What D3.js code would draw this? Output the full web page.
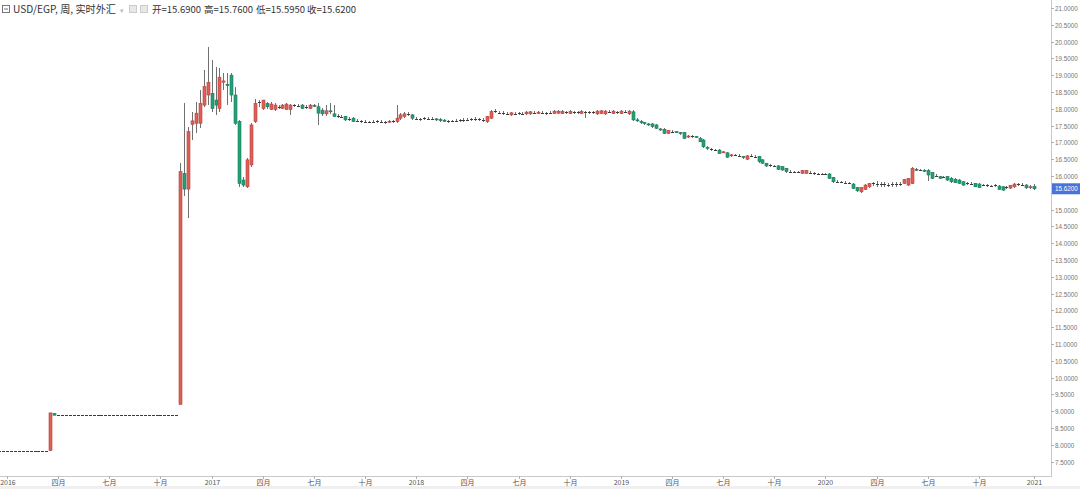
<!DOCTYPE html>
<html><head><meta charset="utf-8">
<script src="https://cdn.jsdelivr.net/npm/d3@7"></script>
<style>
html,body{margin:0;padding:0;background:#fff;overflow:hidden}
svg{display:block}
</style></head>
<body>
<script>
// ---- DATA (weekly bars, k = -2 .. 261, first bar week of 2015-12-21) ----
const firstBar = new Date(2015, 11, 21);
const lastBar = new Date(2021, 0, 4);

const open = [
7.83,7.83,7.83,7.83,7.83,7.83,7.83,7.83,7.83,7.83,
7.83,7.83,7.83,7.83,8.93,8.88,8.88,8.88,8.88,8.88,
8.88,8.88,8.88,8.88,8.88,8.88,8.88,8.88,8.88,8.88,
8.88,8.88,8.88,8.88,8.88,8.88,8.88,8.88,8.88,8.88,
8.88,8.88,8.88,8.88,8.88,8.88,9.2,16.08,15.61,17.54,
17.57,17.57,18.11,18.41,18.46,18.26,18.01,18.79,18.73,19.0,
18.41,17.62,15.88,15.68,16.33,17.62,18.2,18.01,18.16,17.98,
17.98,18.07,18.01,17.98,17.98,18.11,18.1,18.11,18.04,18.01,
18.1,18.06,17.96,17.85,17.94,17.85,17.79,17.77,17.77,17.7,
17.72,17.64,17.63,17.62,17.62,17.61,17.62,17.63,17.62,17.61,
17.63,17.62,17.72,17.77,17.85,17.82,17.72,17.7,17.72,17.72,
17.71,17.7,17.68,17.66,17.64,17.63,17.64,17.65,17.66,17.67,
17.68,17.69,17.7,17.69,17.62,17.72,17.93,17.89,17.88,17.87,
17.82,17.87,17.86,17.87,17.85,17.85,17.89,17.86,17.89,17.88,
17.87,17.86,17.87,17.86,17.91,17.86,17.91,17.9,17.86,17.91,
17.9,17.89,17.85,17.86,17.85,17.92,17.86,17.91,17.86,17.92,
17.85,17.91,17.67,17.62,17.59,17.55,17.55,17.52,17.4,17.39,
17.27,17.33,17.32,17.29,17.29,17.17,17.19,17.17,17.12,17.07,
16.85,16.8,16.78,16.77,16.7,16.69,16.61,16.63,16.61,16.58,
16.5,16.6,16.59,16.58,16.48,16.38,16.32,16.31,16.3,16.28,
16.23,16.14,16.13,16.12,16.08,16.08,16.11,16.09,16.07,16.06,
16.06,16.06,15.96,15.84,15.83,15.81,15.79,15.76,15.66,15.53,
15.6,15.68,15.77,15.77,15.76,15.75,15.75,15.74,15.75,15.76,
15.78,15.73,15.78,16.2,16.19,16.17,16.16,16.1,16.01,15.98,
15.97,15.98,15.93,15.9,15.88,15.83,15.78,15.78,15.78,15.76,
15.73,15.72,15.71,15.71,15.7,15.68,15.65,15.64,15.68,15.75,
15.74,15.73,15.66,15.69];

const high = [
7.83,7.83,7.83,7.83,7.83,7.83,7.83,7.83,7.83,7.83,
7.83,7.83,7.83,8.95,8.95,8.88,8.88,8.88,8.88,8.88,
8.88,8.88,8.88,8.88,8.88,8.88,8.88,8.88,8.88,8.88,
8.88,8.88,8.88,8.88,8.88,8.88,8.88,8.88,8.88,8.88,
8.88,8.88,8.88,8.88,8.88,8.88,16.4,18.16,17.45,17.91,
18.21,18.56,19.16,19.85,19.45,19.25,19.2,19.06,19.06,19.06,
18.66,17.67,15.98,16.53,17.57,18.3,18.26,18.26,18.21,18.2,
18.16,18.12,18.14,18.16,18.14,18.14,18.13,18.14,18.1,18.14,
18.14,18.16,18.02,18.1,18.16,18.1,17.85,17.82,17.8,17.76,
17.75,17.7,17.67,17.66,17.65,17.66,17.67,17.66,17.65,17.67,
17.68,18.11,17.88,17.9,17.9,17.86,17.76,17.74,17.77,17.76,
17.75,17.73,17.72,17.7,17.68,17.68,17.7,17.7,17.72,17.72,
17.74,17.75,17.74,17.72,17.8,17.97,18.0,17.93,17.92,17.91,
17.91,17.9,17.91,17.9,17.93,17.94,17.92,17.93,17.92,17.91,
17.92,17.96,17.96,17.95,17.94,17.95,17.94,17.93,17.95,17.94,
17.93,17.93,17.96,17.97,17.96,17.95,17.96,17.94,17.96,17.95,
17.96,17.95,17.72,17.66,17.62,17.58,17.58,17.55,17.43,17.42,
17.38,17.36,17.35,17.32,17.31,17.23,17.22,17.2,17.15,17.1,
16.88,16.83,16.81,16.8,16.75,16.72,16.66,16.66,16.64,16.61,
16.63,16.64,16.62,16.61,16.5,16.4,16.36,16.34,16.33,16.3,
16.25,16.17,16.16,16.16,16.19,16.19,16.14,16.12,16.1,16.1,
16.09,16.08,15.98,15.87,15.86,15.84,15.82,15.78,15.68,15.68,
15.75,15.8,15.82,15.84,15.82,15.83,15.8,15.82,15.83,15.82,
15.92,15.95,16.26,16.24,16.22,16.2,16.2,16.13,16.05,16.01,
16.01,16.01,15.96,15.93,15.91,15.86,15.82,15.81,15.8,15.78,
15.77,15.76,15.74,15.75,15.73,15.7,15.69,15.74,15.78,15.79,
15.78,15.76,15.72,15.76];

const low = [
7.83,7.83,7.83,7.83,7.83,7.83,7.83,7.83,7.83,7.83,
7.83,7.83,7.83,7.83,8.88,8.88,8.88,8.88,8.88,8.88,
8.88,8.88,8.88,8.88,8.88,8.88,8.88,8.88,8.88,8.88,
8.88,8.88,8.88,8.88,8.88,8.88,8.88,8.88,8.88,8.88,
8.88,8.88,8.88,8.88,8.88,8.88,9.2,15.39,14.74,17.07,
17.27,17.42,18.06,18.11,17.91,17.82,17.91,18.56,18.11,18.21,
17.52,15.68,15.68,15.63,16.28,17.57,18.06,17.96,18.0,17.95,
17.93,18.0,17.98,17.95,17.82,18.06,18.05,17.98,18.0,17.98,
18.04,17.52,17.8,17.8,17.85,17.75,17.74,17.72,17.64,17.65,
17.6,17.6,17.58,17.57,17.57,17.58,17.58,17.57,17.56,17.58,
17.59,17.58,17.68,17.74,17.8,17.68,17.68,17.65,17.68,17.67,
17.66,17.64,17.62,17.6,17.59,17.6,17.6,17.61,17.62,17.63,
17.64,17.65,17.64,17.6,17.58,17.7,17.88,17.84,17.83,17.82,
17.8,17.82,17.83,17.82,17.83,17.83,17.84,17.84,17.84,17.83,
17.84,17.84,17.85,17.84,17.86,17.84,17.86,17.85,17.84,17.72,
17.85,17.86,17.83,17.84,17.83,17.87,17.84,17.86,17.84,17.87,
17.83,17.64,17.6,17.55,17.53,17.48,17.44,17.4,17.33,17.24,
17.24,17.28,17.27,17.23,17.1,17.14,17.14,17.12,17.0,16.84,
16.78,16.75,16.73,16.64,16.67,16.53,16.58,16.59,16.56,16.52,
16.47,16.56,16.54,16.4,16.35,16.27,16.28,16.26,16.17,16.15,
16.1,16.1,16.09,16.08,16.05,16.05,16.06,16.04,16.02,16.02,
16.02,15.9,15.8,15.8,15.79,15.77,15.75,15.6,15.53,15.5,
15.57,15.65,15.7,15.68,15.66,15.67,15.66,15.68,15.68,15.69,
15.75,15.7,15.75,16.14,16.14,16.12,15.85,15.9,15.96,15.9,
15.93,15.86,15.8,15.78,15.76,15.7,15.74,15.73,15.66,15.64,
15.69,15.68,15.66,15.68,15.58,15.56,15.61,15.61,15.65,15.71,
15.7,15.62,15.62,15.595];

const close = [
7.83,7.83,7.83,7.83,7.83,7.83,7.83,7.83,7.83,7.83,
7.83,7.83,7.83,8.95,8.88,8.88,8.88,8.88,8.88,8.88,
8.88,8.88,8.88,8.88,8.88,8.88,8.88,8.88,8.88,8.88,
8.88,8.88,8.88,8.88,8.88,8.88,8.88,8.88,8.88,8.88,
8.88,8.88,8.88,8.88,8.88,8.88,16.13,15.61,17.32,17.64,
17.87,18.16,18.66,18.79,18.01,18.11,18.94,18.83,18.69,18.41,
17.57,15.78,15.73,16.48,17.52,18.16,18.21,18.26,18.06,18.14,
18.11,18.06,18.11,18.14,18.11,18.1,18.09,18.01,18.05,18.11,
18.08,17.87,17.85,17.94,17.92,17.77,17.78,17.76,17.67,17.71,
17.62,17.65,17.63,17.62,17.61,17.62,17.63,17.62,17.61,17.63,
17.64,17.72,17.82,17.85,17.84,17.72,17.71,17.69,17.72,17.71,
17.7,17.68,17.66,17.64,17.63,17.64,17.65,17.66,17.67,17.68,
17.69,17.7,17.69,17.68,17.77,17.92,17.94,17.88,17.87,17.86,
17.88,17.86,17.87,17.86,17.9,17.91,17.88,17.9,17.88,17.87,
17.88,17.93,17.93,17.92,17.9,17.92,17.9,17.89,17.92,17.9,
17.89,17.9,17.93,17.94,17.93,17.91,17.93,17.9,17.93,17.91,
17.93,17.67,17.65,17.59,17.57,17.52,17.47,17.42,17.37,17.27,
17.35,17.32,17.3,17.27,17.12,17.19,17.18,17.15,17.02,16.87,
16.82,16.79,16.77,16.67,16.72,16.56,16.63,16.62,16.6,16.56,
16.6,16.59,16.58,16.43,16.38,16.3,16.33,16.3,16.2,16.18,
16.13,16.13,16.12,16.13,16.16,16.16,16.1,16.08,16.06,16.05,
16.06,15.93,15.83,15.83,15.82,15.8,15.78,15.63,15.56,15.66,
15.73,15.78,15.78,15.76,15.75,15.75,15.74,15.75,15.76,15.76,
15.9,15.93,16.23,16.18,16.18,16.15,16.03,15.93,16.0,15.93,
15.97,15.88,15.83,15.8,15.78,15.73,15.78,15.77,15.68,15.66,
15.73,15.72,15.7,15.72,15.6,15.58,15.66,15.72,15.76,15.75,
15.74,15.65,15.68,15.62];

// axis ticks (15.5000 sits under the last-price tag in the reference)
const yTicks = [7.5,8,8.5,9,9.5,10,10.5,11,11.5,12,12.5,13,13.5,14,14.5,15,15.5,16,16.5,17,17.5,18,18.5,19,19.5,20,20.5,21];
const xTickDates = ["2016-01-04","2016-04-04","2016-07-04","2016-10-03","2017-01-02","2017-04-03","2017-07-03","2017-10-02",
  "2018-01-01","2018-04-02","2018-07-02","2018-10-01","2018-12-31","2019-04-01","2019-07-01","2019-09-30",
  "2019-12-30","2020-03-30","2020-06-29","2020-09-28","2021-01-04"];
const xTickLabels = ["2016","四月","七月","十月","2017","四月","七月","十月","2018","四月","七月","十月","2019","四月","七月","十月","2020","四月","七月","十月","2021"];
const header = {sym:"USD/EGP, 周, 实时外汇", o:"开=15.6900", h:"高=15.7600", l:"低=15.5950", c:"收=15.6200"};
const lastPrice = 15.62;

// ---- DRAW ----
const W = 1080, H = 489;
const plotRight = 1051, plotBottom = 476;
const svg = d3.select("body").append("svg").attr("width", W).attr("height", H);

const dates = d3.timeMonday.range(firstBar, d3.timeDay.offset(lastBar, 1));
const parse = d3.timeParse("%Y-%m-%d");
const x = d3.scaleTime().domain([new Date(2016,0,4), new Date(2021,0,4)]).range([7, 1034]);
const y = d3.scaleLinear().domain([7.5, 21]).range([461.6, 8]);

const bars = dates.map((d,i)=>({d, o:open[i], h:high[i], l:low[i], c:close[i]}));

const UP = "#df5f58", UPS = "#b4443e", DN = "#23a077", DNS = "#197b5a";

const plot = svg.append("g");
plot.append("clipPath").attr("id","clip").append("rect").attr("x",0).attr("y",0).attr("width",plotRight).attr("height",plotBottom);
const cg = plot.append("g").attr("clip-path","url(#clip)");

const bw = 3;
bars.forEach(b=>{
  if (b.o === undefined) return;
  const cx = Math.round(x(b.d)) + 0.5;
  const g = cg.append("g");
  const isDoji = Math.abs(b.o - b.c) < 0.015;
  const up = b.c >= b.o;
  if (b.h - b.l > 0.005) {
    g.append("line").attr("x1",cx).attr("x2",cx).attr("y1",y(b.h)).attr("y2",y(b.l))
      .attr("stroke", "#707070").attr("stroke-width",1).attr("shape-rendering","crispEdges");
  }
  if (isDoji) {
    const yy = Math.round(y(b.c)) + 0.5;
    g.append("line").attr("x1",cx-1.5).attr("x2",cx+1.5).attr("y1",yy).attr("y2",yy)
      .attr("stroke","#3c3c3c").attr("stroke-width",1).attr("shape-rendering","crispEdges");
  } else {
    const y0 = y(Math.max(b.o,b.c)), y1 = y(Math.min(b.o,b.c));
    g.append("rect").attr("x", cx - bw/2).attr("y", y0).attr("width", bw).attr("height", Math.max(1, y1-y0))
      .attr("fill", up ? UP : DN).attr("stroke", up ? UPS : DNS).attr("stroke-width",0.6);
  }
});

// right axis
svg.append("line").attr("x1",plotRight+0.5).attr("x2",plotRight+0.5).attr("y1",0).attr("y2",plotBottom)
  .attr("stroke","#c8c8c8").attr("shape-rendering","crispEdges");
const ya = svg.append("g");
const fmt = d3.format(".4f");
const axisFont = "Liberation Sans, Arial, sans-serif";
yTicks.forEach(t=>{
  const yy = Math.round(y(t))+0.5;
  const s = fmt(t);
  ya.append("line").attr("x1",plotRight).attr("x2",plotRight+3).attr("y1",yy).attr("y2",yy).attr("stroke","#b0b0b0").attr("shape-rendering","crispEdges");
  if (Math.abs(t - lastPrice) < 0.2) return; // hidden behind the last-price tag
  ya.append("text").attr("x",plotRight+4).attr("y",yy).attr("dy","0.35em")
    .attr("font-family",axisFont).attr("font-size",6.3).attr("fill","#757575")
    .text(s);
});
// last price label
svg.append("rect").attr("x",plotRight+1).attr("y",y(lastPrice)-5.5).attr("width",W-plotRight-1).attr("height",11).attr("fill","#4a73d9");
svg.append("text").attr("x",plotRight+4).attr("y",y(lastPrice)).attr("dy","0.35em")
  .attr("font-family",axisFont).attr("font-size",6.3).attr("fill","#fff").text(fmt(lastPrice));

// bottom axis
svg.append("line").attr("x1",0).attr("x2",plotRight+1).attr("y1",plotBottom+0.5).attr("y2",plotBottom+0.5)
  .attr("stroke","#c8c8c8").attr("shape-rendering","crispEdges");
svg.append("rect").attr("x",0).attr("y",486).attr("width",W).attr("height",3).attr("fill","#efefef");
const xa = svg.append("g");
xTickDates.forEach((ds,i)=>{
  const xx = Math.round(x(parse(ds)))+0.5;
  xa.append("line").attr("x1",xx).attr("x2",xx).attr("y1",plotBottom).attr("y2",plotBottom+3).attr("stroke","#b0b0b0").attr("shape-rendering","crispEdges");
  xa.append("text").attr("x",Math.max(xx, 8)).attr("y",484.5).attr("text-anchor","middle")
    .attr("font-family","Noto Sans CJK SC, Liberation Sans, sans-serif").attr("font-size",7).attr("fill","#555")
    .text(xTickLabels[i]);
});

// header
const hd = svg.append("g").attr("font-family","Noto Sans CJK SC, sans-serif").attr("font-size",10.5).attr("fill","#333");
hd.append("rect").attr("x",2.5).attr("y",5.5).attr("width",7).attr("height",7).attr("fill","none").attr("stroke","#777");
hd.append("line").attr("x1",4).attr("x2",8).attr("y1",9).attr("y2",9).attr("stroke","#777");
hd.append("text").attr("x",13).attr("y",13).attr("textLength",103).attr("lengthAdjust","spacingAndGlyphs").text(header.sym);
hd.append("text").attr("x",120).attr("y",12.5).attr("font-size",7).attr("fill","#bbb").text("▾");
hd.append("rect").attr("x",129.5).attr("y",5.5).attr("width",7).attr("height",7).attr("fill","#e8e8e8").attr("stroke","#ccc");
hd.append("rect").attr("x",140.5).attr("y",5.5).attr("width",7).attr("height",7).attr("fill","#e8e8e8").attr("stroke","#ccc");
hd.append("text").attr("x",152).attr("y",13).attr("font-size",9.5).text(header.o);
hd.append("text").attr("x",204).attr("y",13).attr("font-size",9.5).text(header.h);
hd.append("text").attr("x",256).attr("y",13).attr("font-size",9.5).text(header.l);
hd.append("text").attr("x",307).attr("y",13).attr("font-size",9.5).text(header.c);
</script>
</body></html>
